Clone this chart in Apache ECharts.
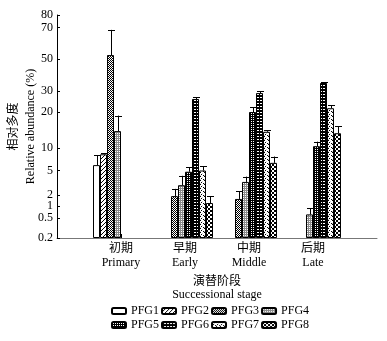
<!DOCTYPE html>
<html><head><meta charset="utf-8">
<script src="https://cdn.jsdelivr.net/npm/echarts@6/dist/echarts.min.js"></script>
<style>html,body{margin:0;padding:0;background:#fff}#c{width:387px;height:341px}</style>
</head><body><div id="c"></div>
<script>
// ---- data ----
var stages = ['初期\nPrimary', '早期\nEarly', '中期\nMiddle', '后期\nLate'];
var groups = ['PFG1', 'PFG2', 'PFG3', 'PFG4', 'PFG5', 'PFG6', 'PFG7', 'PFG8'];
// relative abundance (%) per stage: Primary, Early, Middle, Late
var PFG1 = [6.2, null, null, null];
var PFG2 = [8.6, null, null, null];
var PFG3 = [52.5, 1.9, 1.64, null];
var PFG4 = [14.7, 3.2, 3.6, 0.65];
var PFG5 = [null, 4.85, 20, 10.5];
var PFG6 = [null, 26.2, 29, 35];
var PFG7 = [null, 5.0, 14.5, 21.8];
var PFG8 = [null, 1.27, 6.7, 14.1];
// standard errors (upper error bars)
var SE1 = [2.2, null, null, null];
var SE2 = [0.2, null, null, null];
var SE3 = [16, 0.85, 0.8, null];
var SE4 = [4.3, 1.15, 0.65, 0.25];
var SE5 = [null, 0.85, 2.2, 1.25];
var SE6 = [null, 0.9, 0.9, 0.4];
var SE7 = [null, 0.9, 0.4, 1.5];
var SE8 = [null, 0.6, 1.4, 1.9];
// y tick labels
var yTicks = [0.2, 0.5, 1, 2, 5, 10, 20, 30, 50, 70, 80];

// ---- axis scale (the original uses an irregular, hand-spaced value axis) ----
var yTickPos = [0, 20, 32, 43, 67.5, 90, 126, 147, 179, 210.5, 223];
function scaleY(v) {
  if (v == null) return null;
  if (v <= yTicks[0]) return yTickPos[0];
  for (var i = 1; i < yTicks.length; i++) {
    if (v <= yTicks[i]) {
      var f = (v - yTicks[i - 1]) / (yTicks[i] - yTicks[i - 1]);
      return yTickPos[i - 1] + f * (yTickPos[i] - yTickPos[i - 1]);
    }
  }
  return yTickPos[yTickPos.length - 1];
}

var values = [PFG1, PFG2, PFG3, PFG4, PFG5, PFG6, PFG7, PFG8];
var errors = [SE1, SE2, SE3, SE4, SE5, SE6, SE7, SE8];

// ---- patterns ----
function pat(rows, colors) {
  var h = rows.length, w = rows[0].length;
  var c = document.createElement('canvas');
  c.width = w; c.height = h;
  var ctx = c.getContext('2d');
  for (var y = 0; y < h; y++) for (var x = 0; x < w; x++) {
    ctx.fillStyle = colors[rows[y][x]];
    ctx.fillRect(x, y, 1, 1);
  }
  return { image: c, repeat: 'repeat' };
}
var C = { '#': '#000', '.': '#fff', 'g': '#8a8a8a', 'l': '#cfcfcf' };
var fills = [
  '#fff',
  pat(['...#', '..#.', '.#..', '#...'], C),
  pat(['#.', '.#'], C),
  pat(['gg', 'g.'], C),
  pat(['##', '#.'], C),
  pat(['###', '.#.', '###'], C),
  pat(['#...', '..l.', '.#..', 'l..#'], C),
  pat(['##..', '##..', '..##', '..##'], C)
];

var cats = [''].concat(stages).concat(['']);
var FONT = '"Liberation Serif", "Noto Sans CJK SC", serif';

var series = [];
var errData = [];
for (var k = 0; k < groups.length; k++) {
  var d = ['-'];
  for (var s = 0; s < stages.length; s++) {
    var v = values[k][s];
    d.push(v == null ? '-' : scaleY(v));
    if (v != null && errors[k][s] != null) {
      errData.push([s + 1, k, scaleY(v), scaleY(v + errors[k][s])]);
    }
  }
  d.push('-');
  series.push({
    name: groups[k], type: 'bar', data: d,
    barGap: '0%', barCategoryGap: '12.5%',
    itemStyle: { color: fills[k], borderColor: '#000', borderWidth: 1 },
    emphasis: { disabled: true }, silent: true
  });
}
series.push({
  type: 'custom', data: errData, encode: { x: 0, y: 3 }, z: 5, silent: true,
  renderItem: function (params, api) {
    var cat = api.value(0), k = api.value(1);
    var b = api.coord([cat, api.value(2)]);
    var e = api.coord([cat, api.value(3)]);
    var band = api.size([1, 0])[0];
    var gw = band * (1 - 0.125), bw = gw / 8;
    var x = Math.round(b[0] - gw / 2 + bw * (k + 0.5)) + 0.5;
    var st = { stroke: '#000', lineWidth: 1 };
    return { type: 'group', children: [
      { type: 'line', shape: { x1: x, y1: b[1], x2: x, y2: e[1] }, style: st },
      { type: 'line', shape: { x1: x - bw / 2, y1: Math.round(e[1]) + 0.5, x2: x + bw / 2, y2: Math.round(e[1]) + 0.5 }, style: st }
    ] };
  }
});

var chart = echarts.init(document.getElementById('c'), null, { renderer: 'canvas' });
chart.setOption({
  animation: false,
  backgroundColor: '#fff',
  grid: { left: 57, right: 10, top: 15, bottom: 103, containLabel: false, outerBoundsMode: 'none' },
  xAxis: {
    type: 'category', data: cats, boundaryGap: false,
    name: '演替阶段\nSuccessional stage', nameLocation: 'middle', nameGap: 37, nameMoveOverlap: false,
    nameTextStyle: { color: '#000', fontFamily: FONT, fontSize: 12, lineHeight: 13 },
    axisLine: { lineStyle: { color: '#777', width: 1 } },
    axisTick: { inside: true, length: 4, lineStyle: { color: '#000' },
      interval: function (i) { return i >= 1 && i <= 4; } },
    axisLabel: { interval: 0, color: '#000', fontFamily: FONT, fontSize: 12, lineHeight: 14, margin: 4 },
    splitLine: { show: false }
  },
  yAxis: {
    type: 'value', min: 0, max: 223,
    name: '相对多度\nRelative abundance (%)', nameLocation: 'middle', nameGap: 18, nameRotate: 90, nameMoveOverlap: false,
    nameTextStyle: { color: '#000', fontFamily: FONT, fontSize: 12, lineHeight: 17 },
    axisLine: { show: true, lineStyle: { color: '#000', width: 1 } },
    axisTick: { show: true, inside: true, length: 3, customValues: yTickPos, lineStyle: { color: '#000' } },
    axisLabel: {
      customValues: yTickPos, color: '#000', fontFamily: FONT, fontSize: 12, margin: 4,
      formatter: function (val) {
        var best = 0, bd = 1e9;
        for (var i = 0; i < yTickPos.length; i++) { var dd = Math.abs(yTickPos[i] - val); if (dd < bd) { bd = dd; best = i; } }
        return String(yTicks[best]);
      }
    },
    splitLine: { show: false }
  },
  legend: [
    { data: groups.slice(0, 4), left: 111, top: 305, padding: 0, itemWidth: 14, itemHeight: 6, itemGap: 2,
      textStyle: { color: '#000', fontFamily: FONT, fontSize: 12 }, selectedMode: false },
    { data: groups.slice(4), left: 111, top: 319, padding: 0, itemWidth: 14, itemHeight: 6, itemGap: 2,
      textStyle: { color: '#000', fontFamily: FONT, fontSize: 12 }, selectedMode: false }
  ],
  series: series
});
</script></body></html>
